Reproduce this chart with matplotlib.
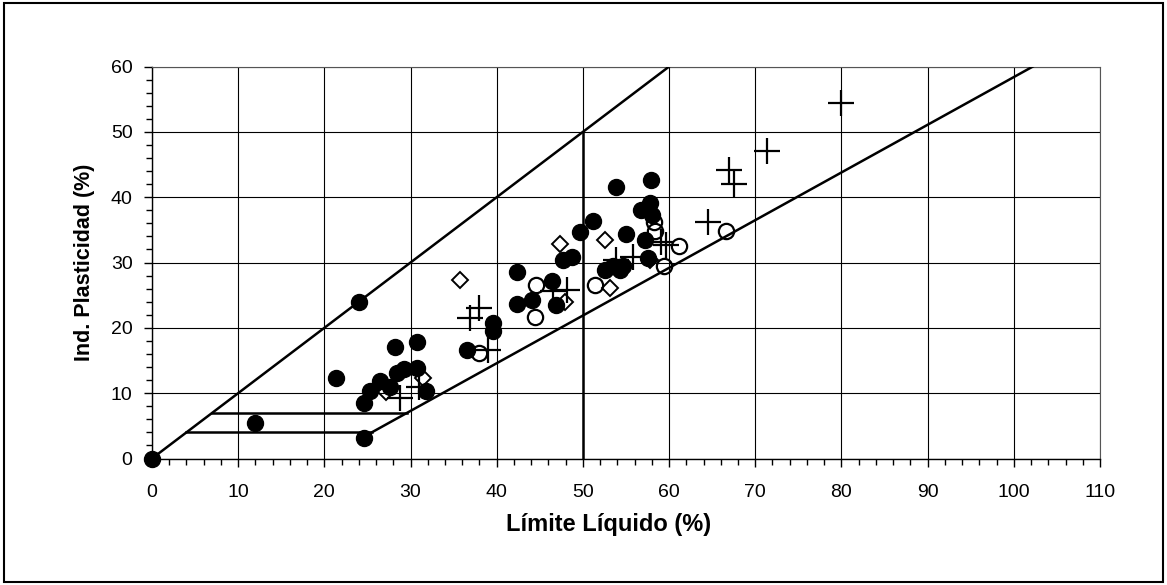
import numpy as np
import matplotlib
matplotlib.use("Agg")
import matplotlib.pyplot as plt
from matplotlib.patches import Rectangle
from matplotlib.ticker import MultipleLocator

plt.rcParams["font.family"] = ["Liberation Sans", "DejaVu Sans"]

# filled circles
llFilled = [0, 11.9, 24.6, 24.0, 21.3, 24.6, 25.3, 26.5, 27.6, 28.2, 28.4, 29.2,
            30.8, 30.8, 31.8, 36.6, 39.6, 39.6, 42.3, 42.4, 44.1, 46.4, 46.9,
            47.7, 48.7, 49.7, 51.2, 52.6, 53.5, 54.3, 54.7, 53.8, 55.0, 56.8,
            57.8, 58.0, 57.9, 57.2, 57.5]
piFilled = [0, 5.4, 3.1, 24.0, 12.3, 8.5, 10.3, 11.8, 10.9, 17.0, 13.1, 13.7,
            17.8, 13.9, 10.4, 16.6, 20.7, 19.5, 23.6, 28.5, 24.3, 27.2, 23.5,
            30.4, 30.9, 34.6, 36.3, 28.9, 29.4, 28.9, 29.5, 41.6, 34.3, 38.1,
            39.1, 37.3, 42.6, 33.5, 30.7]

# open circles
llOpen = [37.9, 44.5, 44.6, 51.4, 58.2, 58.4, 59.4, 61.2, 66.6]
piOpen = [16.2, 21.7, 26.6, 26.6, 36.2, 34.9, 29.4, 32.5, 34.9]

# diamonds
llDiam = [27.2, 31.5, 35.7, 47.3, 47.9, 52.6, 53.2, 57.8]
piDiam = [10.2, 12.3, 27.3, 32.8, 23.9, 33.5, 26.1, 30.4]

# crosses
llPlus = [28.8, 31.0, 36.9, 38.0, 39.0, 46.5, 48.1, 53.9, 55.8, 59.1, 59.6,
          64.5, 66.9, 67.5, 71.4, 80.0]
piPlus = [9.3, 11.0, 21.5, 23.0, 16.6, 25.6, 25.8, 30.4, 30.9, 33.2, 32.7,
          36.2, 44.2, 42.1, 47.0, 54.4]

# chart boundary lines (Casagrande)
upperX = [0, 60]
upperY = [0, 60]
aLineX = [25.5, 102.2]
aLineY = [4, 60]
hLow = ([4, 25.5], [4, 4])
hHigh = ([7, 29.6], [7, 7])
vLine = ([50, 50], [0, 50])

fig = plt.figure(figsize=(11.67, 5.85), dpi=100)
ax = fig.add_axes([0.1302, 0.2162, 0.8124, 0.67])

lw = 1.8
ax.plot(upperX, upperY, color="black", lw=lw, zorder=3)
ax.plot(aLineX, aLineY, color="black", lw=lw, zorder=3)
ax.plot(*hLow, color="black", lw=lw, zorder=3)
ax.plot(*hHigh, color="black", lw=lw, zorder=3)
ax.plot(*vLine, color="black", lw=lw, zorder=3)

ax.plot(llFilled, piFilled, "o", ms=11.5, color="black", zorder=4, clip_on=False)
ax.plot(llOpen, piOpen, "o", ms=11, mfc="none", mec="black", mew=1.6, zorder=5)
ax.plot(llDiam, piDiam, "D", ms=8.5, mfc="none", mec="black", mew=1.4, zorder=5)
ax.plot(llPlus, piPlus, "+", ms=19, mec="black", mew=1.6, zorder=6)

ax.set_xlim(0, 110)
ax.set_ylim(0, 60)
ax.xaxis.set_major_locator(MultipleLocator(10))
ax.xaxis.set_minor_locator(MultipleLocator(2))
ax.yaxis.set_major_locator(MultipleLocator(10))
ax.yaxis.set_minor_locator(MultipleLocator(2))
ax.grid(True, which="major", color="black", lw=0.8)
ax.set_axisbelow(True)
for side in ["top", "right"]:
    ax.spines[side].set_color("#555555")
    ax.spines[side].set_linewidth(0.8)
for side in ["left", "bottom"]:
    ax.spines[side].set_linewidth(1.0)
ax.tick_params(which="major", length=6, width=1, labelsize=14, pad=12)
ax.tick_params(which="minor", length=4, width=1)
ax.tick_params(axis="y", pad=8)

ax.set_xlabel("Límite Líquido (%)", fontsize=17, fontweight="bold")
ax.xaxis.set_label_coords(0.482, -0.14)
ax.set_ylabel("Ind. Plasticidad (%)", fontsize=15.5, fontweight="bold", va="center")
ax.yaxis.set_label_coords(-0.0707, 0.5)

fig.patches.append(Rectangle((0.003, 0.005), 0.994, 0.99, transform=fig.transFigure,
                             fill=False, edgecolor="black", lw=1.5))

fig.savefig("out.png", dpi=100)
